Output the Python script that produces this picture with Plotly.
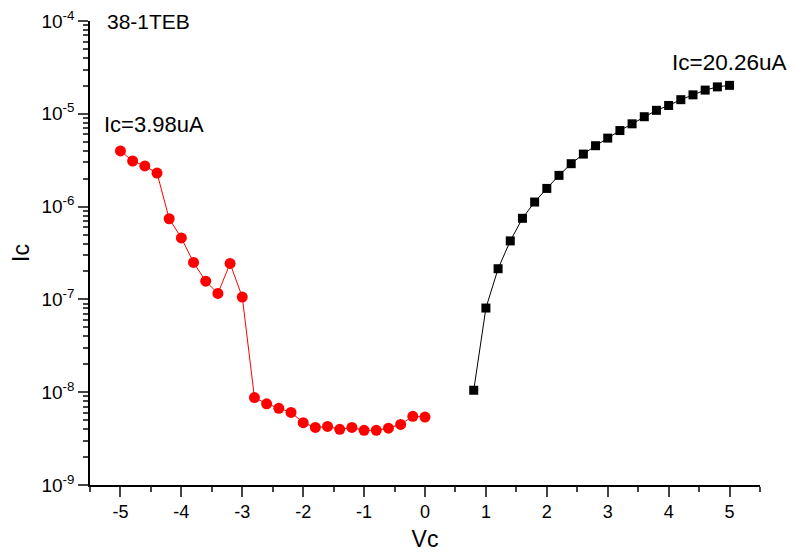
import numpy as np
import plotly.graph_objects as go

# Red series (negative Vc)
vc_neg = [-5.0, -4.8, -4.6, -4.4, -4.2, -4.0, -3.8, -3.6, -3.4, -3.2, -3.0,
          -2.8, -2.6, -2.4, -2.2, -2.0, -1.8, -1.6, -1.4, -1.2, -1.0, -0.8,
          -0.6, -0.4, -0.2, 0.0]
ic_neg = [3.98e-6, 3.1e-6, 2.74e-6, 2.3e-6, 7.4e-7, 4.6e-7, 2.5e-7, 1.57e-7,
          1.16e-7, 2.44e-7, 1.06e-7, 8.75e-9, 7.5e-9, 6.7e-9, 6.05e-9, 4.7e-9,
          4.17e-9, 4.28e-9, 3.98e-9, 4.17e-9, 3.88e-9, 3.88e-9, 4.1e-9,
          4.5e-9, 5.5e-9, 5.4e-9]

# Black series (positive Vc)
vc_pos = [0.8, 1.0, 1.2, 1.4, 1.6, 1.8, 2.0, 2.2, 2.4, 2.6, 2.8, 3.0, 3.2,
          3.4, 3.6, 3.8, 4.0, 4.2, 4.4, 4.6, 4.8, 5.0]
ic_pos = [1.05e-8, 8.07e-8, 2.14e-7, 4.27e-7, 7.48e-7, 1.12e-6, 1.57e-6,
          2.17e-6, 2.9e-6, 3.68e-6, 4.53e-6, 5.47e-6, 6.6e-6, 7.8e-6, 9.3e-6,
          1.09e-5, 1.23e-5, 1.42e-5, 1.6e-5, 1.8e-5, 1.95e-5, 2.026e-5]

x_ticks = [-5, -4, -3, -2, -1, 0, 1, 2, 3, 4, 5]
x_ticktext = [str(v) for v in x_ticks]
y_exps = [-9, -8, -7, -6, -5, -4]
y_tickvals = [10.0 ** e for e in y_exps]
y_ticktext = ["10<sup>%d</sup>" % e for e in y_exps]
y_minor = [m * 10.0 ** e for e in y_exps[:-1] for m in range(2, 10)]
x_minor = [v + 0.5 for v in range(-6, 6) if -5.5 <= v + 0.5 <= 5.5]

font = "Liberation Sans, Arial, sans-serif"

fig = go.Figure()
fig.add_trace(go.Scatter(x=vc_neg, y=ic_neg, mode="lines+markers",
                         line=dict(color="#ff0000", width=1),
                         marker=dict(symbol="circle", size=11, color="#ff0000"),
                         showlegend=False))
fig.add_trace(go.Scatter(x=vc_pos, y=ic_pos, mode="lines+markers",
                         line=dict(color="#000000", width=1),
                         marker=dict(symbol="square", size=9, color="#000000"),
                         showlegend=False))

fig.add_annotation(x=-5.25, y=1.0, yref="paper", text="38-1TEB", showarrow=False,
                   xanchor="left", yanchor="middle", font=dict(size=21, color="black"))
fig.add_annotation(x=-5.3, y=-5.11, text="Ic=3.98uA", showarrow=False,
                   xanchor="left", yanchor="middle", font=dict(size=22, color="black"))
fig.add_annotation(x=4.03, y=-4.45, text="Ic=20.26uA", showarrow=False,
                   xanchor="left", yanchor="middle", font=dict(size=22.5, color="black"))

# page body has an 8px margin, so the figure is shrunk and shifted accordingly
fig.update_layout(
    width=787, height=545,
    margin=dict(l=82, r=35, t=13, b=68, autoexpand=False),
    paper_bgcolor="white", plot_bgcolor="white",
    font=dict(family=font, color="black", size=16),
    xaxis=dict(range=[-5.5, 5.5], tickvals=x_ticks, ticktext=x_ticktext,
               ticks="outside", ticklen=10,
               tickwidth=1.5, showline=True, linecolor="black", linewidth=1.5,
               showgrid=False, zeroline=False,
               minor=dict(tickvals=x_minor, ticks="outside", ticklen=5, tickwidth=1.5),
               title=dict(text="Vc", font=dict(size=23), standoff=10),
               tickfont=dict(size=18)),
    yaxis=dict(type="log", range=[-9, -4], tickvals=y_tickvals, ticktext=y_ticktext,
               ticks="outside", ticklen=10, tickwidth=1.5, showline=True,
               linecolor="black", linewidth=1.5, showgrid=False, zeroline=False,
               ticklabeloverflow="allow",
               minor=dict(tickvals=y_minor, ticks="outside", ticklen=5, tickwidth=1.5),
               title=dict(text="Ic", font=dict(size=23), standoff=15),
               tickfont=dict(size=19)),
)

fig.write_html("out.html")
